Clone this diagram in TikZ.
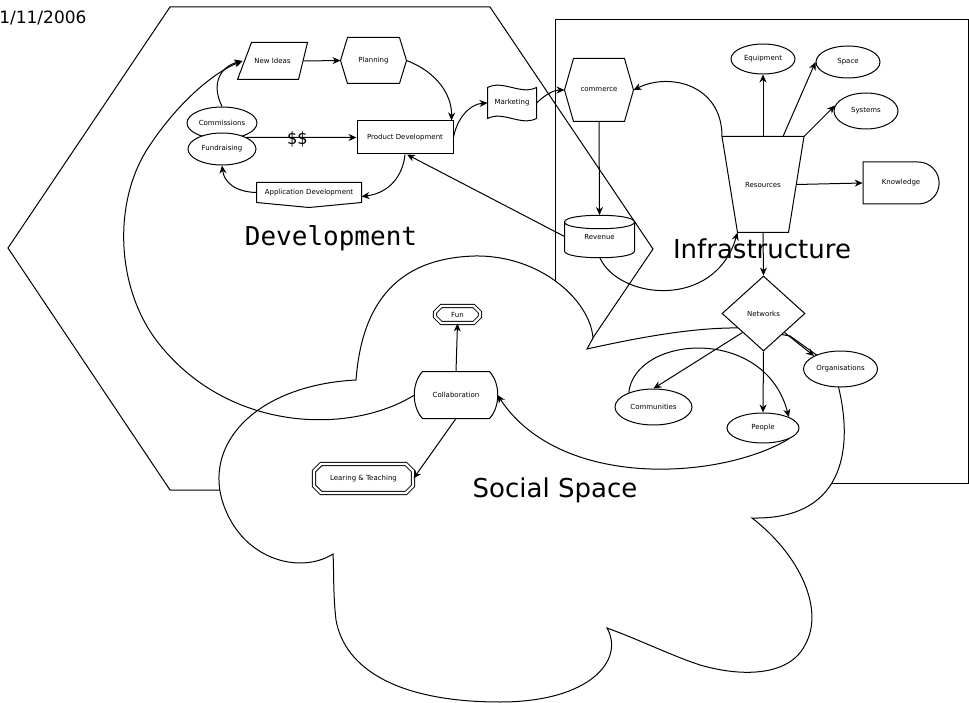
\documentclass[tikz,border=0pt]{standalone}
\usepackage{fontspec}
\setmainfont{DejaVu Sans}
\setmonofont{DejaVu Sans Mono}
\usepackage{tikz}
\usetikzlibrary{positioning, arrows.meta, shapes.geometric, shapes.misc}

\begin{document}
\begin{tikzpicture}[x=1pt, y=1pt, line width=1pt,
  tag/.style={inner sep=0pt, font=\fontsize{7}{8}\selectfont},
  oval/.style={tag, draw, ellipse, fill=white},
  box/.style={tag, draw, fill=white},
  twin/.style={tag, draw, fill=white, chamfered rectangle, double, double distance=2.2pt},
  zone/.style={inner sep=0pt, font=\fontsize{26}{30}\selectfont},
  link/.style={-{Stealth[length=8pt, width=7pt]}}
]
  \useasboundingbox (0,0) rectangle (969,-703);

  \draw (170,-7) -- (490,-7) -- (653,-249) -- (490,-490) -- (170,-490) -- (8,-248) -- cycle;
  \draw (555,-20) rectangle (968,-483);
  \node[zone, font=\fontsize{26}{30}\selectfont\ttfamily, anchor=base] (devzone) at (331,-245.5) {Development};
  \node[zone, anchor=base] (infrazone) at (762,-258.5) {Infrastructure};
  \node[inner sep=0pt, anchor=base east, font=\fontsize{17}{18}\selectfont] (date) at (87,-23.3) {1/11/2006};

  \draw[fill=white] (587,-349) .. controls (650,-335) and (700,-327) .. (745,-328) -- (790,-336) -- (818,-356) -- (838,-385)
    .. controls (852,-440) and (850,-520) .. (752,-518)
    .. controls (800,-555) and (825,-610) .. (805,-645)
    .. controls (790,-675) and (745,-678) .. (700,-665)
    .. controls (670,-655) and (640,-640) .. (607,-628)
    .. controls (625,-660) and (590,-702) .. (500,-702)
    .. controls (400,-702) and (345,-670) .. (336,-620)
    .. controls (333,-595) and (334,-570) .. (333,-554)
    .. controls (300,-575) and (240,-560) .. (222,-500)
    .. controls (205,-440) and (260,-385) .. (356,-380)
    .. controls (362,-300) and (400,-258) .. (475,-256)
    .. controls (540,-255) and (590,-300) .. (593,-338) -- cycle;
  \node[zone, anchor=base] (socialzone) at (555,-497) {Social Space};

  \node[oval, minimum width=70pt, minimum height=32pt] (commissions) at (222,-123) {Commissions};
  \node[oval, minimum width=68pt, minimum height=32pt] (fundraising) at (222,-149) {Fundraising};
  \node[tag, minimum width=69pt, minimum height=36pt] (newideas) at (272.5,-61) {New Ideas};
  \draw (newideas.south west) -- ([xshift=14pt]newideas.north west) -- (newideas.north east) -- ([xshift=-9pt]newideas.south east) -- cycle;
  \node[tag, minimum width=65pt, minimum height=45pt] (planning) at (373.5,-60.5) {Planning};
  \draw (planning.west) -- ([xshift=7pt]planning.north west) -- ([xshift=-7pt]planning.north east) -- (planning.east)
    -- ([xshift=-7pt]planning.south east) -- ([xshift=7pt]planning.south west) -- cycle;
  \node[box, minimum width=96pt, minimum height=33pt] (product) at (405,-137.5) {Product Development};
  \node[tag, minimum width=104pt, minimum height=19pt] (appdev) at (309,-192.5) {Application Development};
  \draw (appdev.north west) -- (appdev.north east) -- (appdev.south east) -- ([yshift=-5pt]appdev.south) -- (appdev.south west) -- cycle;
  \node[font=\fontsize{17}{18}\selectfont\ttfamily, inner sep=0pt] (cash) at (297,-139.5) {\$\$};

  \node[tag, minimum width=48pt, minimum height=30pt] (marketing) at (512,-103) {Marketing};
  \draw (marketing.north west) .. controls ([xshift=16pt, yshift=8pt]marketing.north west) and ([xshift=-16pt, yshift=-8pt]marketing.north east) .. (marketing.north east)
    -- (marketing.south east) .. controls ([xshift=-16pt, yshift=-8pt]marketing.south east) and ([xshift=16pt, yshift=8pt]marketing.south west) .. (marketing.south west) -- cycle;
  \node[tag, minimum width=68pt, minimum height=62pt] (commerce) at (599,-90) {commerce};
  \draw (commerce.west) -- ([xshift=9pt]commerce.north west) -- ([xshift=-9pt]commerce.north east) -- (commerce.east)
    -- ([xshift=-9pt]commerce.south east) -- ([xshift=9pt]commerce.south west) -- cycle;
  \node[tag, minimum width=69pt, minimum height=28pt] (revenue) at (599.5,-236.5) {Revenue};
  \draw (revenue.north west) -- (revenue.south west) .. controls ([yshift=-9pt]revenue.south west) and ([yshift=-9pt]revenue.south east) .. (revenue.south east)
    -- (revenue.north east) .. controls ([yshift=9pt]revenue.north east) and ([yshift=9pt]revenue.north west) .. (revenue.north west)
    .. controls ([yshift=-9pt]revenue.north west) and ([yshift=-9pt]revenue.north east) .. (revenue.north east);

  \node[tag, minimum width=81pt, minimum height=95pt] (resources) at (763,-184.5) {Resources};
  \draw (resources.north west) -- (resources.north east) -- ([xshift=-15.5pt]resources.south east) -- ([xshift=15.5pt]resources.south west) -- cycle;
  \node[oval, minimum width=64pt, minimum height=30pt] (equipment) at (763,-59) {Equipment};
  \node[oval, minimum width=64pt, minimum height=32pt] (space) at (848,-62) {Space};
  \node[oval, minimum width=64pt, minimum height=36pt] (systems) at (866,-111) {Systems};
  \node[box, rounded rectangle, rounded rectangle left arc=none, minimum width=76pt, minimum height=42pt] (knowledge) at (901,-183) {Knowledge};
  \node[box, diamond, minimum width=83pt, minimum height=75pt] (networks) at (763.5,-313.5) {Networks};
  \node[oval, minimum width=74pt, minimum height=36pt] (organisations) at (840.5,-369) {Organisations};
  \node[oval, minimum width=77pt, minimum height=36pt] (communities) at (653.5,-407) {Communities};
  \node[oval, minimum width=72pt, minimum height=30pt] (people) at (763,-428) {People};

  \node[tag, minimum width=82pt, minimum height=46pt] (collab) at (456,-395) {Collaboration};
  \draw ([xshift=8pt]collab.north west) -- ([xshift=-8pt]collab.north east)
    .. controls ([xshift=3pt, yshift=-12pt]collab.north east) and ([xshift=3pt, yshift=12pt]collab.south east) .. ([xshift=-8pt]collab.south east)
    -- ([xshift=8pt]collab.south west)
    .. controls ([xshift=-3pt, yshift=12pt]collab.south west) and ([xshift=-3pt, yshift=-12pt]collab.north west) .. cycle;
  \node[twin, chamfered rectangle xsep=3pt, minimum width=45pt, minimum height=17pt] (fun) at (457.5,-314.5) {Fun};
  \node[twin, chamfered rectangle xsep=5pt, minimum width=99pt, minimum height=29pt] (learning) at (363.5,-478.5) {Learing \& Teaching};

  \draw[link] ([xshift=-4pt]newideas.east) -- (planning.west);
  \draw[link] (planning.east) .. controls (437,-72) and (452,-95) .. ([xshift=-2pt]product.north east);
  \draw[link] (fundraising.north east) -- (product.west);
  \draw[link] (commissions.north) .. controls (210,-82) and (222,-66) .. ([xshift=5pt]newideas.west);
  \draw[link] (collab.west) .. controls (350,-435) and (230,-432) .. (160,-345) .. controls (115,-290) and (112,-200) .. (150,-145)
    .. controls (180,-100) and (215,-72) .. ([xshift=5pt]newideas.west);
  \draw[link] (product.south) .. controls (403,-175) and (390,-193) .. ([yshift=-4pt]appdev.east);
  \draw[link] (appdev.west) .. controls (235,-192) and (224,-182) .. (fundraising.south);
  \draw[link] (product.east) .. controls (457,-118) and (470,-104) .. (marketing.west);
  \draw[link] (marketing.east) .. controls (547,-93) and (555,-90) .. (commerce.west);
  \draw[link] (commerce.south) -- ([yshift=7pt]revenue.north);
  \draw[link] (revenue.west) -- ([xshift=2pt]product.south);
  \draw[link] ([yshift=-6pt]revenue.south) .. controls (618,-300) and (715,-310) .. ([xshift=15.5pt]resources.south west);
  \draw[link] (resources.north west) .. controls (722,-85) and (670,-72) .. (commerce.east);
  \draw[link] (resources.north) -- (equipment.south);
  \draw[link] ([xshift=20pt]resources.north) -- (space.west);
  \draw[link] (resources.north east) -- (systems.170);
  \draw[link] ([xshift=-7.75pt]resources.east) -- (knowledge.west);
  \draw[link] (resources.south) -- (networks.north);
  \draw[link] (networks.south) -- (people.north);
  \draw[link] (networks.south west) -- (communities.north);
  \draw[link] (networks.south east) -- (organisations.north west);
  \draw[link] (communities.150) .. controls (635,-335) and (765,-325) .. (people.north east);
  \draw[link] (people.south east) .. controls (720,-480) and (560,-490) .. (collab.east);
  \draw[link] (collab.north) -- (fun.south);
  \draw[link] (collab.south) -- (learning.east);
\end{tikzpicture}
\end{document}
